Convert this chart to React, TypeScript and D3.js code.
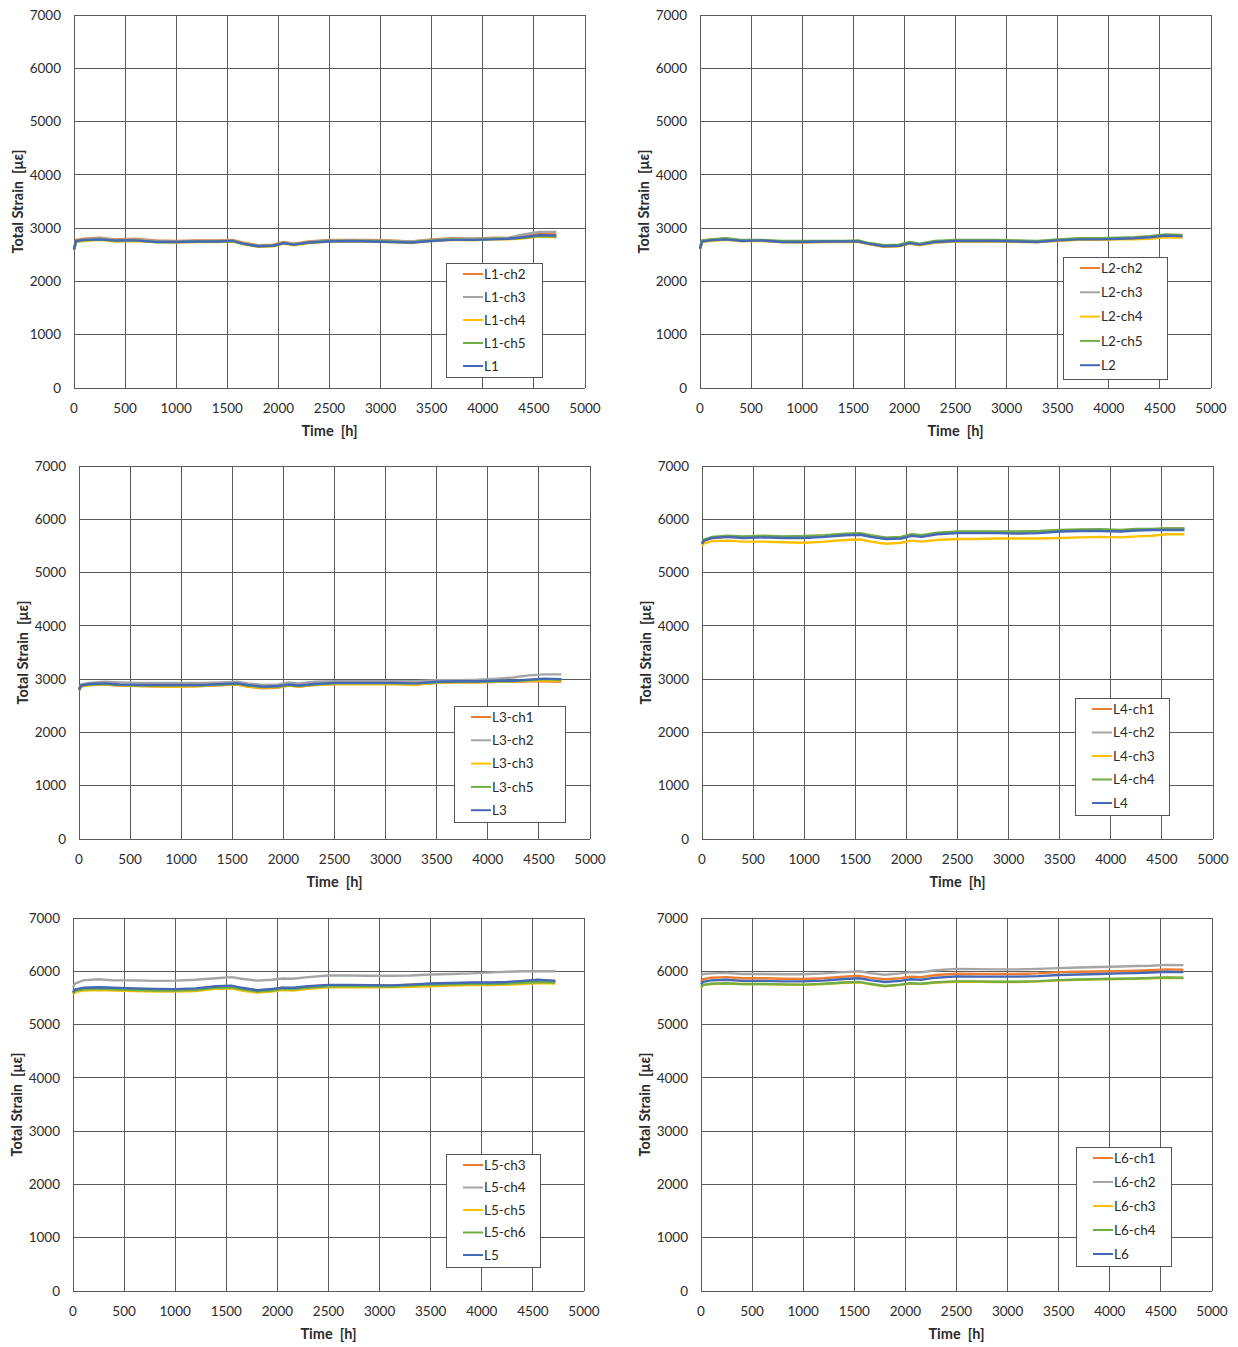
import React from 'react';
import * as d3 from 'd3';

// time axis shared by every series [h]
const TIME = [0, 20, 100, 250, 400, 600, 800, 1000, 1200, 1400, 1550, 1650, 1800, 1950, 2050, 2150, 2300, 2500, 2700, 2900, 3100, 3300, 3500, 3700, 3900, 4100, 4250, 4400, 4550, 4720];

const X_TICKS = [0, 500, 1000, 1500, 2000, 2500, 3000, 3500, 4000, 4500, 5000];
const Y_TICKS = [0, 1000, 2000, 3000, 4000, 5000, 6000, 7000];

const COLORS = ['#ED7D31', '#A5A5A5', '#FFC000', '#70AD47', '#4468B4'];

// L1
const L1_NAMES = ['L1-ch2', 'L1-ch3', 'L1-ch4', 'L1-ch5', 'L1'];
const L1_CH2 = [2620, 2780, 2800, 2820, 2790, 2800, 2770, 2760, 2770, 2770, 2780, 2730, 2680, 2690, 2740, 2710, 2750, 2780, 2780, 2780, 2770, 2750, 2790, 2810, 2800, 2820, 2810, 2850, 2890, 2880];
const L1_CH3 = [2600, 2760, 2790, 2810, 2780, 2790, 2760, 2750, 2760, 2760, 2770, 2720, 2670, 2680, 2730, 2700, 2740, 2770, 2770, 2770, 2760, 2750, 2780, 2800, 2800, 2810, 2820, 2880, 2930, 2930];
const L1_CH4 = [2580, 2740, 2760, 2780, 2750, 2760, 2740, 2730, 2740, 2740, 2750, 2700, 2650, 2660, 2710, 2680, 2720, 2750, 2750, 2750, 2740, 2720, 2760, 2780, 2770, 2790, 2790, 2810, 2840, 2830];
const L1_CH5 = [2590, 2750, 2770, 2790, 2760, 2770, 2740, 2740, 2750, 2750, 2760, 2710, 2660, 2670, 2720, 2690, 2730, 2760, 2760, 2760, 2750, 2730, 2770, 2790, 2780, 2800, 2800, 2820, 2850, 2840];
const L1_AVG = [2600, 2760, 2780, 2790, 2770, 2770, 2740, 2740, 2750, 2750, 2760, 2710, 2660, 2670, 2720, 2690, 2730, 2750, 2760, 2750, 2740, 2730, 2760, 2780, 2780, 2790, 2800, 2830, 2870, 2860];

// L2
const L2_NAMES = ['L2-ch2', 'L2-ch3', 'L2-ch4', 'L2-ch5', 'L2'];
const L2_CH2 = [2620, 2760, 2780, 2800, 2770, 2770, 2750, 2740, 2750, 2750, 2750, 2710, 2660, 2670, 2720, 2690, 2740, 2760, 2760, 2760, 2760, 2750, 2770, 2790, 2800, 2810, 2810, 2820, 2850, 2840];
const L2_CH3 = [2610, 2750, 2770, 2790, 2760, 2770, 2740, 2740, 2740, 2750, 2750, 2700, 2650, 2670, 2710, 2690, 2730, 2750, 2750, 2760, 2750, 2740, 2770, 2790, 2790, 2800, 2810, 2830, 2860, 2850];
const L2_CH4 = [2600, 2740, 2760, 2780, 2760, 2760, 2740, 2730, 2740, 2740, 2740, 2700, 2650, 2660, 2710, 2680, 2730, 2750, 2750, 2750, 2740, 2740, 2760, 2780, 2780, 2790, 2790, 2800, 2830, 2820];
const L2_CH5 = [2630, 2770, 2790, 2810, 2780, 2780, 2760, 2760, 2760, 2760, 2770, 2720, 2680, 2690, 2740, 2710, 2760, 2780, 2780, 2780, 2770, 2760, 2790, 2810, 2810, 2820, 2830, 2850, 2880, 2870];
const L2_AVG = [2610, 2750, 2770, 2790, 2760, 2770, 2740, 2740, 2750, 2750, 2750, 2710, 2660, 2670, 2720, 2690, 2740, 2760, 2760, 2760, 2750, 2740, 2770, 2790, 2790, 2800, 2810, 2830, 2860, 2850];

// L3
const L3_NAMES = ['L3-ch1', 'L3-ch2', 'L3-ch3', 'L3-ch5', 'L3'];
const L3_CH1 = [2780, 2860, 2890, 2900, 2880, 2870, 2860, 2860, 2870, 2890, 2900, 2860, 2830, 2840, 2880, 2860, 2890, 2910, 2910, 2910, 2910, 2900, 2930, 2940, 2940, 2950, 2950, 2960, 2960, 2950];
const L3_CH2 = [2820, 2900, 2930, 2950, 2940, 2930, 2930, 2930, 2930, 2940, 2950, 2920, 2890, 2900, 2940, 2920, 2950, 2960, 2960, 2960, 2960, 2960, 2980, 2980, 2990, 3010, 3030, 3070, 3090, 3090];
const L3_CH3 = [2790, 2870, 2890, 2900, 2880, 2870, 2860, 2860, 2870, 2890, 2900, 2860, 2840, 2850, 2880, 2860, 2890, 2910, 2910, 2910, 2910, 2900, 2930, 2940, 2940, 2950, 2950, 2970, 2980, 2970];
const L3_CH5 = [2800, 2880, 2900, 2910, 2890, 2880, 2880, 2880, 2880, 2900, 2910, 2880, 2850, 2860, 2890, 2870, 2900, 2920, 2920, 2920, 2920, 2920, 2940, 2950, 2950, 2960, 2960, 2980, 3000, 2990];
const L3_AVG = [2800, 2880, 2910, 2920, 2900, 2890, 2890, 2890, 2890, 2910, 2920, 2890, 2860, 2870, 2900, 2880, 2910, 2930, 2930, 2930, 2930, 2920, 2950, 2960, 2960, 2970, 2970, 2990, 3010, 3000];

// L4
const L4_NAMES = ['L4-ch1', 'L4-ch2', 'L4-ch3', 'L4-ch4', 'L4'];
const L4_CH1 = [5540, 5600, 5650, 5670, 5660, 5670, 5660, 5660, 5680, 5710, 5720, 5680, 5640, 5650, 5700, 5680, 5730, 5750, 5750, 5750, 5740, 5760, 5780, 5790, 5790, 5780, 5800, 5810, 5830, 5830];
const L4_CH2 = [5550, 5610, 5660, 5680, 5670, 5680, 5670, 5670, 5690, 5720, 5730, 5690, 5650, 5660, 5710, 5690, 5740, 5760, 5760, 5760, 5760, 5770, 5790, 5800, 5800, 5790, 5810, 5810, 5820, 5820];
const L4_CH3 = [5500, 5550, 5590, 5600, 5580, 5580, 5570, 5560, 5580, 5610, 5620, 5580, 5540, 5560, 5600, 5580, 5610, 5630, 5630, 5640, 5640, 5640, 5650, 5660, 5670, 5660, 5680, 5690, 5720, 5720];
const L4_CH4 = [5560, 5620, 5670, 5690, 5680, 5690, 5680, 5685, 5700, 5730, 5740, 5700, 5655, 5670, 5720, 5700, 5750, 5770, 5770, 5770, 5770, 5780, 5800, 5810, 5815, 5800, 5820, 5820, 5830, 5830];
const L4_AVG = [5540, 5600, 5650, 5670, 5650, 5660, 5650, 5650, 5670, 5700, 5710, 5670, 5630, 5640, 5690, 5670, 5720, 5740, 5740, 5740, 5730, 5740, 5770, 5780, 5780, 5770, 5790, 5800, 5800, 5800];

// L5
const L5_NAMES = ['L5-ch3', 'L5-ch4', 'L5-ch5', 'L5-ch6', 'L5'];
const L5_CH3 = [5600, 5650, 5680, 5690, 5680, 5670, 5660, 5660, 5670, 5710, 5720, 5680, 5640, 5660, 5690, 5680, 5710, 5740, 5740, 5740, 5730, 5750, 5760, 5770, 5780, 5780, 5790, 5810, 5830, 5820];
const L5_CH4 = [5700, 5770, 5830, 5850, 5830, 5830, 5820, 5825, 5840, 5870, 5890, 5860, 5825, 5840, 5865, 5860, 5890, 5920, 5920, 5915, 5915, 5920, 5940, 5950, 5960, 5980, 5990, 6000, 6000, 6000];
const L5_CH5 = [5560, 5610, 5640, 5650, 5640, 5630, 5620, 5620, 5630, 5670, 5680, 5640, 5600, 5620, 5650, 5640, 5670, 5700, 5700, 5700, 5700, 5710, 5720, 5730, 5740, 5740, 5750, 5760, 5780, 5770];
const L5_CH6 = [5580, 5630, 5660, 5670, 5660, 5650, 5640, 5640, 5650, 5690, 5700, 5660, 5620, 5640, 5670, 5660, 5690, 5720, 5720, 5720, 5715, 5730, 5745, 5755, 5760, 5760, 5770, 5785, 5800, 5790];
const L5_AVG = [5610, 5660, 5690, 5700, 5690, 5680, 5670, 5665, 5680, 5720, 5730, 5690, 5645, 5670, 5690, 5690, 5720, 5745, 5745, 5740, 5735, 5750, 5770, 5780, 5790, 5790, 5800, 5820, 5840, 5820];

// L6
const L6_NAMES = ['L6-ch1', 'L6-ch2', 'L6-ch3', 'L6-ch4', 'L6'];
const L6_CH1 = [5800, 5850, 5880, 5890, 5870, 5870, 5860, 5855, 5870, 5900, 5915, 5880, 5850, 5870, 5900, 5890, 5930, 5955, 5950, 5950, 5950, 5960, 5985, 5990, 5995, 6000, 6010, 6020, 6035, 6030];
const L6_CH2 = [5920, 5950, 5960, 5970, 5950, 5950, 5945, 5945, 5960, 5985, 6000, 5965, 5935, 5960, 5985, 5980, 6020, 6045, 6040, 6035, 6035, 6045, 6060, 6070, 6080, 6090, 6100, 6105, 6120, 6115];
const L6_CH3 = [5690, 5740, 5760, 5770, 5760, 5760, 5750, 5745, 5760, 5785, 5795, 5760, 5720, 5745, 5770, 5760, 5790, 5805, 5805, 5800, 5800, 5810, 5830, 5840, 5850, 5855, 5860, 5870, 5880, 5875];
const L6_CH4 = [5700, 5745, 5765, 5775, 5760, 5760, 5755, 5750, 5765, 5790, 5800, 5765, 5725, 5750, 5775, 5765, 5795, 5810, 5810, 5805, 5805, 5815, 5835, 5845, 5855, 5860, 5865, 5875, 5885, 5880];
const L6_AVG = [5760, 5800, 5830, 5840, 5820, 5820, 5810, 5810, 5825, 5855, 5870, 5835, 5800, 5820, 5850, 5840, 5880, 5905, 5900, 5900, 5900, 5910, 5930, 5940, 5950, 5960, 5965, 5975, 5990, 5985];

const PW = 511;
const PH = 373;
const FONT = 'Lato, "Open Sans", sans-serif';
const TXT = '#2b2b2b';
const GRID = '#5a5a5a';

const panels = [
  { left: 74, top: 15, names: L1_NAMES, series: [L1_CH2, L1_CH3, L1_CH4, L1_CH5, L1_AVG], lg: { x: 446, y: 263, w: 96, h: 114, step: 23 } },
  { left: 700, top: 15, names: L2_NAMES, series: [L2_CH2, L2_CH3, L2_CH4, L2_CH5, L2_AVG], lg: { x: 1063, y: 257, w: 104, h: 122, step: 24.3 } },
  { left: 79, top: 466, names: L3_NAMES, series: [L3_CH1, L3_CH2, L3_CH3, L3_CH5, L3_AVG], lg: { x: 454, y: 706, w: 111, h: 116, step: 23.3 } },
  { left: 702, top: 466, names: L4_NAMES, series: [L4_CH1, L4_CH2, L4_CH3, L4_CH4, L4_AVG], lg: { x: 1075, y: 698, w: 94, h: 117, step: 23.5 } },
  { left: 73, top: 918, names: L5_NAMES, series: [L5_CH3, L5_CH4, L5_CH5, L5_CH6, L5_AVG], lg: { x: 446, y: 1154, w: 94, h: 113, step: 22.5 } },
  { left: 701, top: 918, names: L6_NAMES, series: [L6_CH1, L6_CH2, L6_CH3, L6_CH4, L6_AVG], lg: { x: 1076, y: 1147, w: 95, h: 119, step: 24 } },
];

function Panel({ p }) {
  const x = d3.scaleLinear().domain([0, 5000]).range([p.left, p.left + PW]);
  const y = d3.scaleLinear().domain([0, 7000]).range([p.top + PH, p.top]);
  const line = d3.line<number>()
    .x((_, i) => x(TIME[i]))
    .y(d => y(d))
    .curve(d3.curveLinear);

  const bottom = p.top + PH;
  const lg = p.lg;

  return (
    <g>
      {X_TICKS.map(t => (
        <line key={'gx' + t} x1={x(t)} x2={x(t)} y1={p.top} y2={bottom} stroke={GRID} strokeWidth={1} shapeRendering="crispEdges" />
      ))}
      {Y_TICKS.map(t => (
        <line key={'gy' + t} x1={p.left} x2={p.left + PW} y1={y(t)} y2={y(t)} stroke={GRID} strokeWidth={1} shapeRendering="crispEdges" />
      ))}

      {p.series.map((s, i) => (
        <path key={'s' + i} d={line(s)} fill="none" stroke={COLORS[i]} strokeWidth={2.4} strokeLinejoin="round" />
      ))}

      {Y_TICKS.map(t => (
        <text key={'ty' + t} x={p.left - 13} y={y(t)} dy="0.35em" textAnchor="end" fontSize={13.5} fill={TXT} fontFamily={FONT}>{t}</text>
      ))}
      {X_TICKS.map(t => (
        <text key={'tx' + t} x={x(t)} y={bottom + 20} dy="0.35em" textAnchor="middle" fontSize={13.5} fill={TXT} fontFamily={FONT}>{t}</text>
      ))}

      <text x={p.left + PW / 2} y={bottom + 43} dy="0.35em" textAnchor="middle" fontSize={14.5} fontWeight="bold" fill={TXT} fontFamily={FONT} style={{ whiteSpace: 'pre' }}>{'Time  [h]'}</text>
      <text transform={`translate(${p.left - 56},${p.top + PH / 2}) rotate(-90)`} dy="0.35em" textAnchor="middle" fontSize={14.5} fontWeight="bold" fill={TXT} fontFamily={FONT} style={{ whiteSpace: 'pre' }}>{'Total Strain  [με]'}</text>

      <rect x={lg.x} y={lg.y} width={lg.w} height={lg.h} fill="#fff" stroke="#555" strokeWidth={1} shapeRendering="crispEdges" />
      {p.names.map((n, i) => {
        const cy = lg.y + 11 + i * lg.step;
        return (
          <g key={'lg' + i}>
            <line x1={lg.x + 17} x2={lg.x + 37} y1={cy} y2={cy} stroke={COLORS[i]} strokeWidth={2} />
            <text x={lg.x + 38} y={cy} dy="0.35em" fontSize={13.5} fill={TXT} fontFamily={FONT}>{n}</text>
          </g>
        );
      })}
    </g>
  );
}

export default function App() {
  return (
    <svg width={1238} height={1347} style={{ position: 'absolute', left: 0, top: 0, background: '#fff' }}>
      <rect width={1238} height={1347} fill="#fff" />
      {panels.map((p, i) => <Panel key={i} p={p} />)}
    </svg>
  );
}
